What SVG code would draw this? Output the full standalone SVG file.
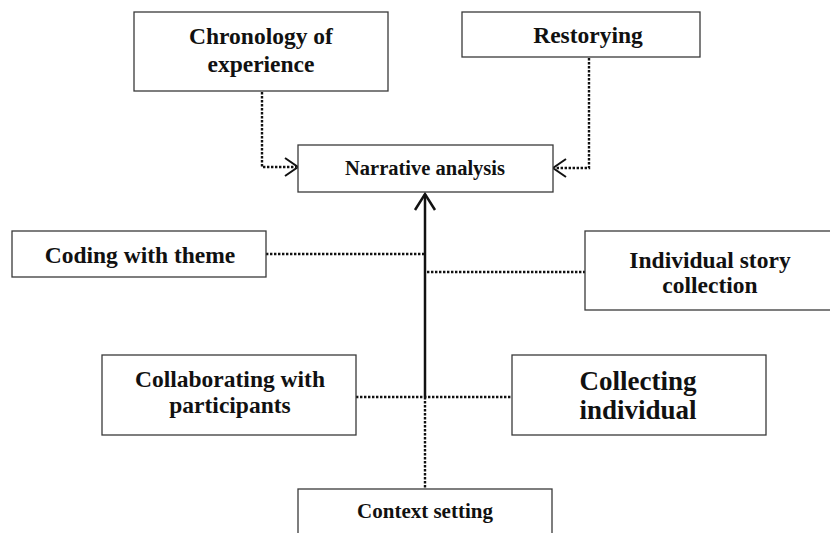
<svg xmlns="http://www.w3.org/2000/svg" width="830" height="533" viewBox="0 0 830 533">
<style>
.box{fill:#fff;stroke:#3a3a3a;stroke-width:1.3}
text{font-family:'Liberation Serif','Times New Roman',Times,serif;font-weight:700;fill:#111;text-anchor:middle}
.m{font-size:23.5px}
.dot{fill:none;stroke:#111;stroke-width:2.4;stroke-dasharray:2.4 1.6}
.solid{fill:none;stroke:#111;stroke-width:2.5}
.head{fill:none;stroke:#111;stroke-width:2}
</style>
<rect width="830" height="533" fill="#fff"/>
<g id="connectors">
<path class="dot" d="M262 92 V167 H296"/>
<path class="head" d="M285 158 L298 167 L285 176"/>
<path class="dot" d="M589 58 V168 H555"/>
<path class="head" d="M566 159 L553 168 L566 177"/>
<path class="solid" d="M425 397 V194"/>
<path class="head" style="stroke-width:2.5" d="M415 210 L425 194 L435 210"/>
<path class="dot" d="M266 254 H424"/>
<path class="dot" d="M427 272 H585"/>
<path class="dot" d="M356 397 H512"/>
<path class="dot" d="M425 397 V489"/>
</g>
<g id="chronology">
<rect class="box" x="134" y="12" width="254" height="79"/>
<text class="m" x="261" y="44">Chronology of</text>
<text class="m" x="261" y="72">experience</text>
</g>
<g id="restorying">
<rect class="box" x="462" y="12" width="238" height="45"/>
<text class="m" x="588" y="43">Restorying</text>
</g>
<g id="narrative">
<rect class="box" x="298" y="145" width="255" height="47"/>
<text x="425" y="175" font-size="20.5">Narrative analysis</text>
</g>
<g id="coding">
<rect class="box" x="12" y="231" width="254" height="46"/>
<text class="m" x="140" y="263">Coding with theme</text>
</g>
<g id="individual-story">
<rect class="box" x="585" y="231" width="250" height="79"/>
<text class="m" x="710" y="268">Individual story</text>
<text class="m" x="710" y="293">collection</text>
</g>
<g id="collaborating">
<rect class="box" x="102" y="355" width="254" height="80"/>
<text class="m" x="230" y="387">Collaborating with</text>
<text class="m" x="230" y="413">participants</text>
</g>
<g id="collecting">
<rect class="box" x="512" y="355" width="254" height="80"/>
<text x="638" y="390" font-size="27">Collecting</text>
<text x="638" y="419" font-size="27">individual</text>
</g>
<g id="context">
<rect class="box" x="298" y="489" width="254" height="60"/>
<text x="425" y="518" font-size="21">Context setting</text>
</g>
</svg>
